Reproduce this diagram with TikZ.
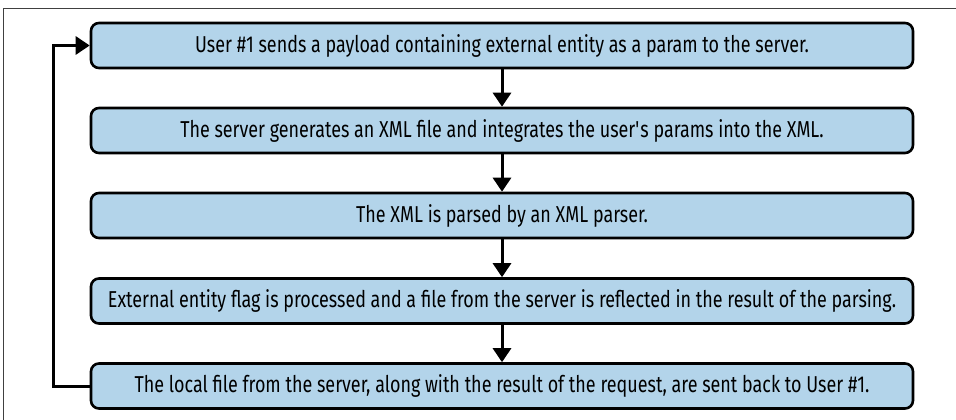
\documentclass[tikz,border=0pt]{standalone}
\usepackage{fontspec}
\setmainfont[FakeStretch=0.78]{Fira Sans}
\usetikzlibrary{arrows.meta}
\definecolor{boxblue}{RGB}{179,212,234}
\tikzset{
  stepbox/.style={draw=black, line width=2.6pt, fill=boxblue, rounded corners=8pt,
    minimum width=822pt, minimum height=45pt, inner sep=0pt,
    font=\fontsize{23}{27}\selectfont, text=black},
  flow/.style={line width=3pt, -{Triangle[width=18pt,length=14pt]}},
  frame/.style={draw=black!75, line width=0.9pt}
}
\begin{document}
\begin{tikzpicture}[x=1pt,y=1pt]
\useasboundingbox (0,0) rectangle (956,-420);
\draw[frame] (956,-8) -- (3,-8) -- (3,-420);
\node[stepbox] (b1) at (502,-45.5) {User \#1 sends a payload containing external entity as a param to the server.};
\node[stepbox] (b2) at (502,-130.5) {The server generates an XML file and integrates the user\textquotesingle s params into the XML.};
\node[stepbox] (b3) at (502,-215.5) {The XML is parsed by an XML parser.};
\node[stepbox] (b4) at (502,-301) {External entity flag is processed and a file from the server is reflected in the result of the parsing.};
\node[stepbox] (b5) at (502,-386) {The local file from the server, along with the result of the request, are sent back to User \#1.};
\draw[flow] (b1) -- (b2);
\draw[flow] (b2) -- (b3);
\draw[flow] (b3) -- (b4);
\draw[flow] (b4) -- (b5);
\draw[flow, rounded corners=0pt] (b5.west) -- ++(-36,0) |- (b1.west);
\end{tikzpicture}
\end{document}
